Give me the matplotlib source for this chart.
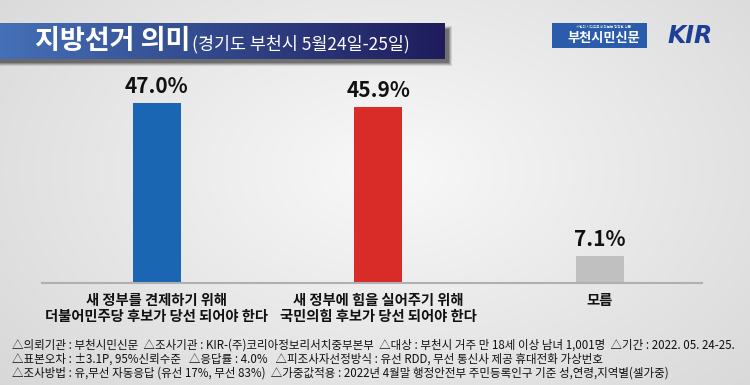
import numpy as np
import matplotlib
matplotlib.use("Agg")
import matplotlib.pyplot as plt
from matplotlib.patches import Rectangle

plt.rcParams['font.family'] = ['Noto Sans CJK KR', 'DejaVu Sans']

# data
categories = ["새 정부를 견제하기 위해\n더불어민주당 후보가 당선 되어야 한다",
              "새 정부에 힘을 실어주기 위해\n국민의힘 후보가 당선 되어야 한다",
              "모름"]
values = [47.0, 45.9, 7.1]
bar_colors = ["#1b66b3", "#d92b27", "#c0c0c0"]

title = "지방선거 의미"
subtitle = "(경기도 부천시 5월24일-25일)"
notes = [
    "△의뢰기관 : 부천시민신문  △조사기관 : KIR-(주)코리아정보리서치중부본부  △대상 : 부천시 거주 만 18세 이상 남녀 1,001명  △기간 : 2022. 05. 24-25.",
    "△표본오차 : ±3.1P, 95%신뢰수준   △응답률 : 4.0%   △피조사자선정방식 : 유선 RDD, 무선 통신사 제공 휴대전화 가상번호",
    "△조사방법 : 유,무선 자동응답 (유선 17%, 무선 83%)  △가중값적용 : 2022년 4월말 행정안전부 주민등록인구 기준 성,연령,지역별(셀가중)",
]

W, H = 750, 385
fig = plt.figure(figsize=(W / 100, H / 100), dpi=100)

# background with soft radial gradient
bg = fig.add_axes([0, 0, 1, 1])
bg.set_xlim(0, W)
bg.set_ylim(H, 0)
bg.axis("off")
yy, xx = np.mgrid[0:H, 0:W]
r = np.sqrt(((xx - 390) / 520.0) ** 2 + ((yy - 170) / 330.0) ** 2)
shade = np.clip(0.975 - 0.13 * r, 0.82, 0.975)
bg.imshow(np.dstack([shade] * 3), extent=(0, W, H, 0), aspect="auto", zorder=0)

# title banner with shadow
for k, a in enumerate([0.10, 0.14, 0.18, 0.24]):
    bg.add_patch(Rectangle((0, 26 + k), 452 - k, 40 - 2 * k, color="black", alpha=a, lw=0, zorder=1))
grad = np.linspace(0, 1, 256)
c1 = np.array([0.27, 0.44, 0.72])
c2 = np.array([0.12, 0.11, 0.36])
band = c1[None, :] * (1 - grad[:, None]) + c2[None, :] * grad[:, None]
bg.imshow(band[None, :, :], extent=(0, 445, 59, 23), aspect="auto", zorder=2)
bg.text(35, 41, title, color="white", fontsize=19.5, fontweight="bold", va="center", ha="left", zorder=3)
bg.text(192, 44, subtitle, color="white", fontsize=12.5, fontweight="medium", va="center", ha="left", zorder=3)

# logos (approximated)
bg.add_patch(Rectangle((552, 23), 95, 25, color="#2a5cab", lw=0, zorder=2))
bg.text(604, 38, "부천시민신문", color="white", fontsize=9.5, fontweight="bold", va="center", ha="center", zorder=3)
bg.text(604, 27, "시민의 시각으로 바라보는 정직한 신문", color="white", fontsize=2.5, va="center", ha="center", zorder=3)
bg.text(690, 36, "KIR", color="#1d3f95", fontsize=17, fontweight="bold", fontstyle="italic",
        family="DejaVu Sans", va="center", ha="center", zorder=3)

# footnotes
for i, line in enumerate(notes):
    bg.text(12, 345 + i * 14, line, fontsize=8.3, fontweight="medium", color="#111111",
            va="center", ha="left", zorder=3)

# chart
ax = fig.add_axes([42 / W, (H - 283) / H, 660 / W, 222 / H])
ax.patch.set_alpha(0)
x = np.arange(len(values))
ax.bar(x, values, width=0.217, color=bar_colors, zorder=2)
for xi, v in zip(x, values):
    ax.annotate(f"{v:.1f}%", (xi, v), xytext=(0, 7), textcoords="offset points",
                ha="center", va="baseline", fontsize=15, fontweight="bold", color="#111111")
ax.set_xlim(-0.519, 2.462)
ax.set_ylim(0, 57.96)
ax.set_xticks(x, categories, fontsize=10.3, fontweight="bold", color="#111111", linespacing=1.2)
ax.tick_params(axis="x", length=0, pad=8)
ax.set_yticks([])
for s in ["top", "right", "left"]:
    ax.spines[s].set_visible(False)
ax.spines["bottom"].set_color("#b0b0b0")
ax.spines["bottom"].set_linewidth(1.5)

fig.savefig("out.png", dpi=100)
